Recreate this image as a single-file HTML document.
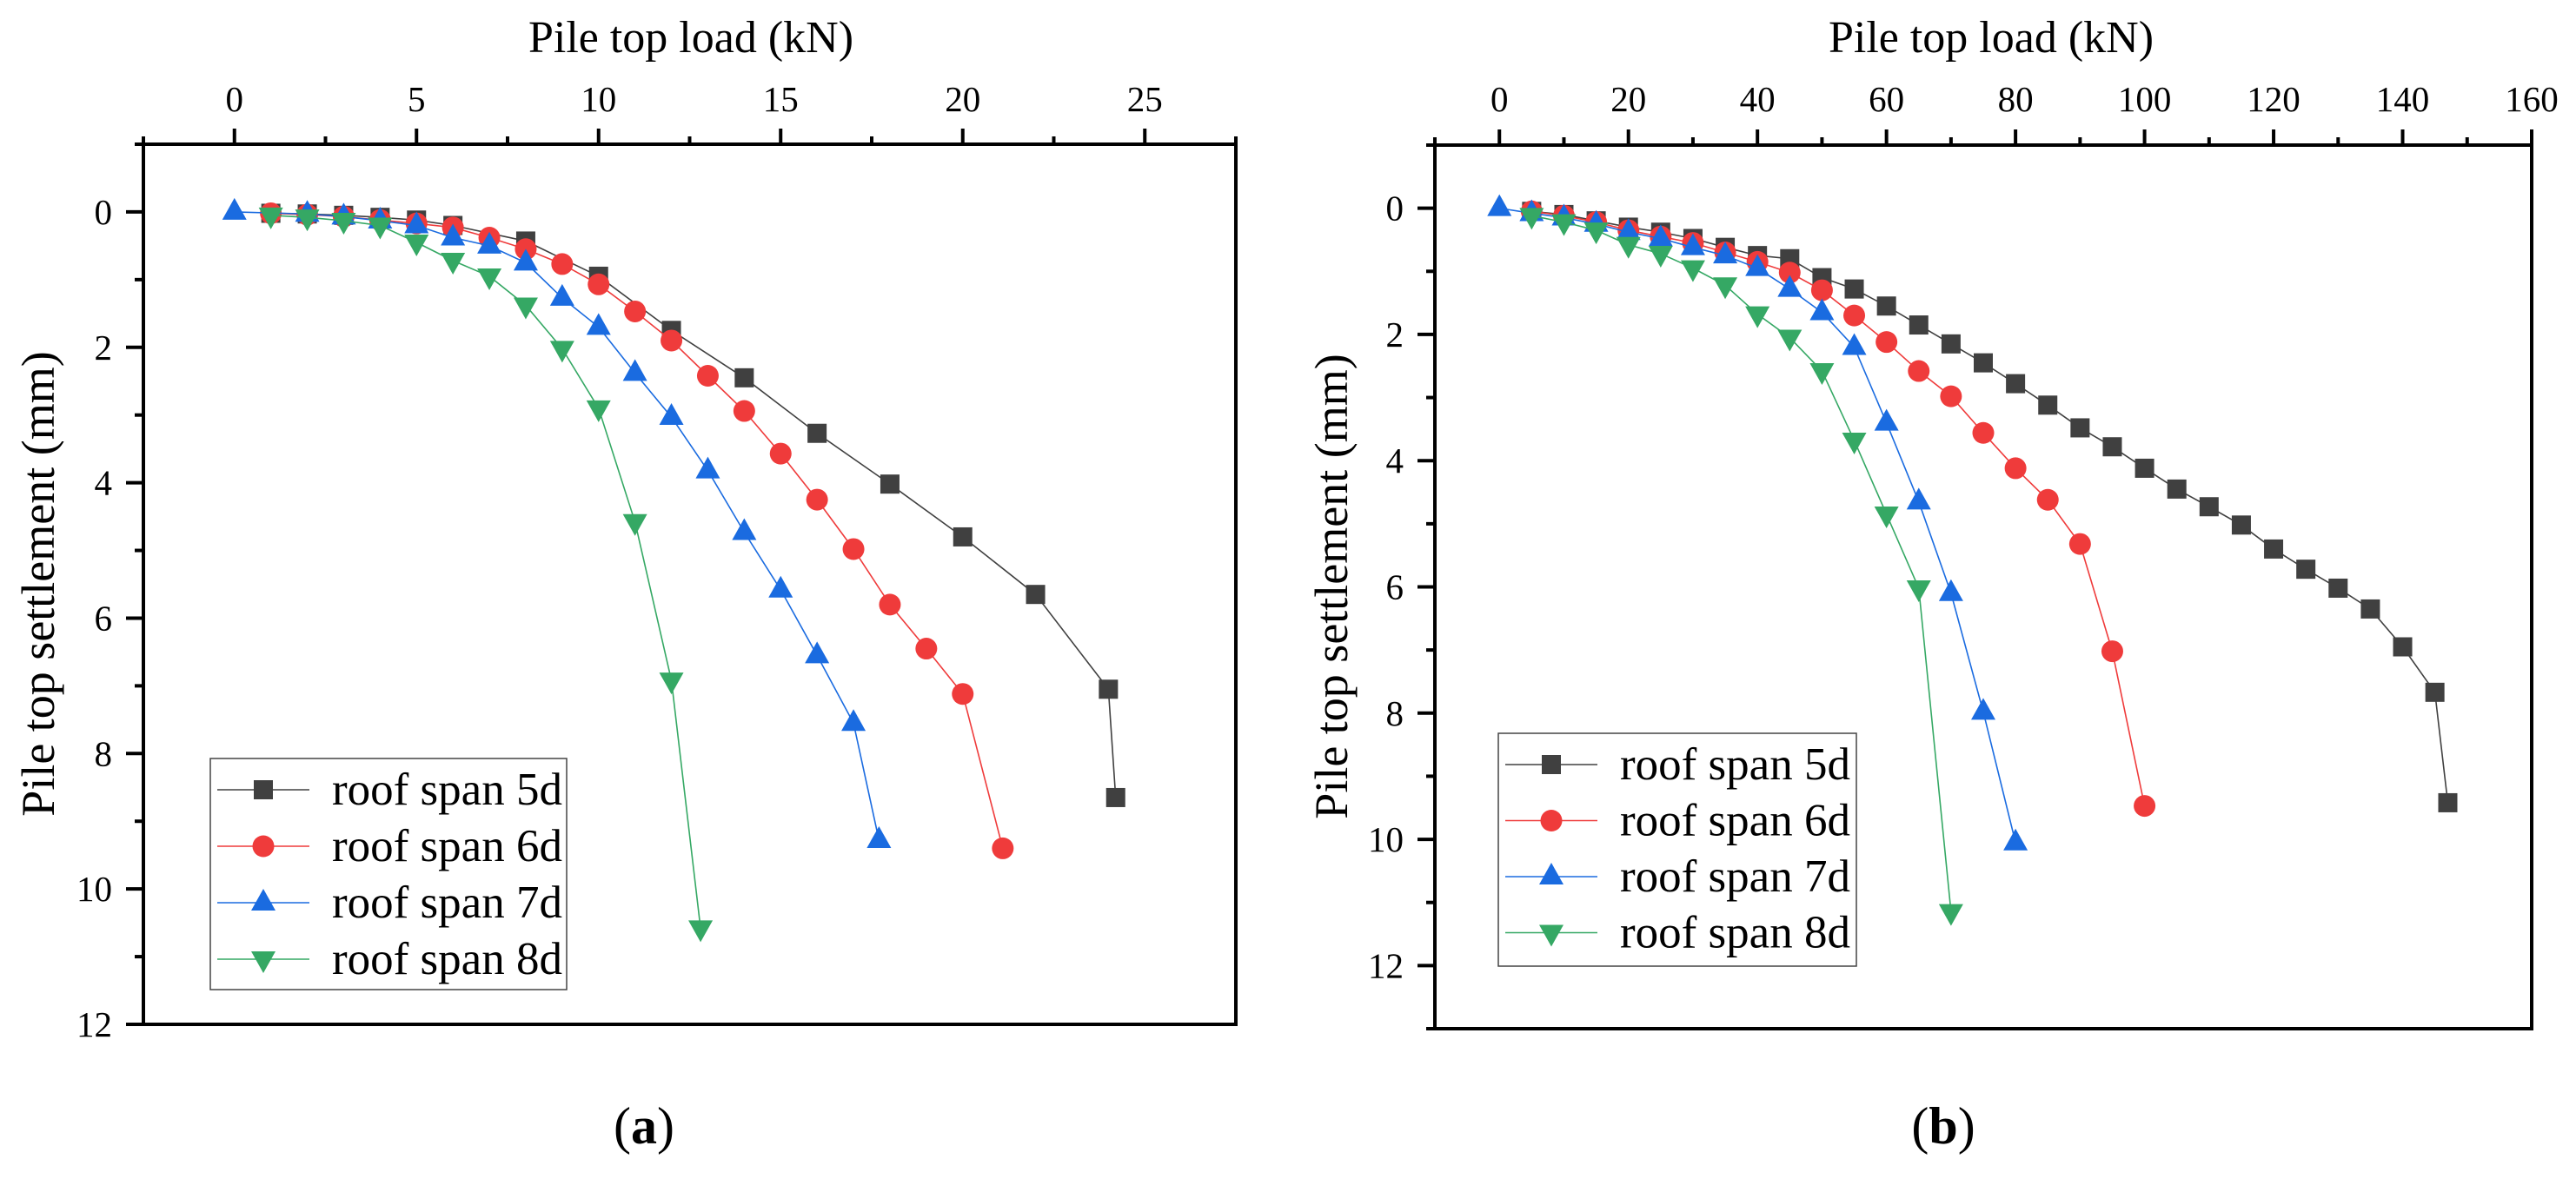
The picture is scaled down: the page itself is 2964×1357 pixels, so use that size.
<!DOCTYPE html>
<html><head><meta charset="utf-8"><style>
html,body{margin:0;padding:0;background:#fff;}
svg{display:block;}
svg text{font-family:"Liberation Serif","DejaVu Serif",serif;}
</style></head><body>
<svg id="chart" width="2964" height="1357" viewBox="0 0 2964 1357" xmlns="http://www.w3.org/2000/svg" font-family="Liberation Serif, DejaVu Serif, serif"></svg>
<script>
// ---- Panel (a) data ----
const seriesNames = ["roof span 5d","roof span 6d","roof span 7d","roof span 8d"];
const aLoad5 = [1,2,3,4,5,6,8,10,12,14,16,18,20,22,24,24.2];
const aSet5  = [0.02,0.03,0.05,0.08,0.12,0.2,0.43,0.95,1.75,2.45,3.27,4.02,4.8,5.65,7.05,8.65];
const aLoad6 = [1,2,3,4,5,6,7,8,9,10,11,12,13,14,15,16,17,18,19,20,21.1];
const aSet6  = [0.02,0.04,0.07,0.12,0.17,0.23,0.38,0.55,0.77,1.07,1.47,1.9,2.42,2.94,3.57,4.25,4.98,5.8,6.45,7.12,9.4];
const aLoad7 = [0,2,3,4,5,6,7,8,9,10,11,12,13,14,15,16,17,17.7];
const aSet7  = [0,0.03,0.07,0.13,0.2,0.38,0.5,0.75,1.27,1.7,2.38,3.03,3.82,4.73,5.58,6.55,7.55,9.28];
const aLoad8 = [1,2,3,4,5,6,7,8,9,10,11,12,12.8];
const aSet8  = [0.05,0.08,0.13,0.2,0.45,0.72,0.95,1.38,2.02,2.9,4.58,6.92,10.58];
const aXTicks = [0,5,10,15,20,25];
const aYTicks = [0,2,4,6,8,10,12];
// ---- Panel (b) data ----
const bLoad5 = [5,10,15,20,25,30,35,40,45,50,55,60,65,70,75,80,85,90,95,100,105,110,115,120,125,130,135,140,145,147];
const bSet5  = [0.05,0.1,0.2,0.3,0.38,0.48,0.62,0.75,0.8,1.1,1.28,1.55,1.85,2.15,2.45,2.78,3.12,3.48,3.78,4.12,4.45,4.73,5.02,5.4,5.72,6.02,6.35,6.95,7.67,9.42];
const bLoad6 = [5,10,15,20,25,30,35,40,45,50,55,60,65,70,75,80,85,90,95,100];
const bSet6  = [0.05,0.12,0.22,0.35,0.45,0.55,0.7,0.85,1.02,1.3,1.7,2.12,2.58,2.98,3.56,4.12,4.62,5.32,7.02,9.47];
const bLoad7 = [0,5,10,15,20,25,30,35,40,45,50,55,60,65,70,75,80];
const bSet7  = [0,0.08,0.15,0.25,0.38,0.48,0.62,0.75,0.95,1.28,1.65,2.2,3.4,4.65,6.1,7.98,10.05];
const bLoad8 = [5,10,15,20,25,30,35,40,45,50,55,60,65,70];
const bSet8  = [0.12,0.22,0.35,0.58,0.72,0.95,1.22,1.68,2.05,2.58,3.68,4.85,6.02,11.15];
const bXTicks = [0,20,40,60,80,100,120,140,160];
const bYTicks = [0,2,4,6,8,10,12];

const colors = ["#404040","#ef3b3b","#1a6be0","#35a864"];
const FONT = '"Liberation Serif", "DejaVu Serif", serif';
const svg = document.getElementById('chart');
const NS = "http://www.w3.org/2000/svg";
function mk(tag, attrs, parent){const e=document.createElementNS(NS,tag);for(const k in attrs)e.setAttribute(k,attrs[k]);if(tag==='text'){e.style.fontFamily=FONT;}(parent||svg).appendChild(e);return e;}

function marker(g, kind, cx, cy, color){
  let e;
  if(kind===0){e=mk('rect',{x:cx-11,y:cy-11,width:22,height:22,fill:color},g);}
  else if(kind===1){e=mk('circle',{cx:cx,cy:cy,r:12.5,fill:color},g);}
  else if(kind===2){e=mk('polygon',{points:`${cx},${cy-16} ${cx+14},${cy+9} ${cx-14},${cy+9}`,fill:color},g);}
  else {e=mk('polygon',{points:`${cx-14},${cy-9} ${cx+14},${cy-9} ${cx},${cy+16}`,fill:color},g);}
  return e;
}

function panel(p){
  const g = mk('g',{});
  
  
  const X = v => p.L + (v - p.xmin)/(p.xmax-p.xmin)*(p.R-p.L);
  const Y = v => p.T + (v - p.ymin)/(p.ymax-p.ymin)*(p.B-p.T);
  const fr = mk('rect',{x:p.L,y:p.T,width:p.R-p.L,height:p.B-p.T,fill:'none',stroke:'#000','stroke-width':4},g);
  
  
  for(let v=p.xmin; v<=p.xmax+1e-9; v+=p.xminor){
    const major = p.xticks.some(t=>Math.abs(t-v)<1e-6);
    const t = mk('line',{x1:X(v),x2:X(v),y1:p.T,y2:p.T-(major?18:9),stroke:'#000','stroke-width':4},g);
    
    
  }
  p.xticks.forEach(v=>{
    const t = mk('text',{x:X(v),y:128,'font-size':41,'text-anchor':'middle',fill:'#000'},g);
    t.textContent = v;
    
    
  });
  for(let v=p.ymin; v<=p.ymax+1e-9; v+=1){
    const major = p.yticks.some(t=>Math.abs(t-v)<1e-6);
    const t = mk('line',{x1:p.L,x2:p.L-(major?20:10),y1:Y(v),y2:Y(v),stroke:'#000','stroke-width':4},g);
    
    
  }
  p.yticks.forEach(v=>{
    const t = mk('text',{x:p.L-36,y:Y(v)+14,'font-size':41,'text-anchor':'end',fill:'#000'},g);
    t.textContent = v;
    
    
  });
  const xt = mk('text',{x:p.titleX,y:60,'font-size':52,'text-anchor':'middle',fill:'#000'},g);
  xt.textContent = 'Pile top load (kN)';
  
  
  const yt = mk('text',{x:0,y:0,'font-size':54,'text-anchor':'middle',fill:'#000',transform:`translate(${p.ytX},${p.ytY}) rotate(-90)`},g);
  yt.textContent = 'Pile top settlement (mm)';
  
  
  const cp = mk('text',{x:p.capX,y:1316,'font-size':60,'text-anchor':'middle',fill:'#000'},g);
  cp.innerHTML = '(<tspan font-weight="bold">'+p.id+'</tspan>)';
  
  
  p.series.forEach((s,i)=>{
    const sg = mk('g',{},g);
    
    
    const pts = s[0].map((x,j)=>X(x)+','+Y(s[1][j])).join(' ');
    const pl = mk('polyline',{points:pts,fill:'none',stroke:colors[i],'stroke-width':1.6},sg);
    
    
    s[0].forEach((x,j)=>{
      const m = marker(sg,i,X(x),Y(s[1][j]),colors[i]);
      
      
    });
  });
  const lg = mk('g',{},g);
  
  
  const lb = mk('rect',{x:p.lg.x,y:p.lg.y,width:p.lg.w,height:p.lg.h,fill:'#fff',stroke:'#444','stroke-width':1.5},lg);
  
  
  seriesNames.forEach((n,i)=>{
    const cy = p.lg.y0 + i*p.lg.dy;
    const eg = mk('g',{},lg);
    
    
    mk('line',{x1:p.lg.x+8,x2:p.lg.x+114,y1:cy,y2:cy,stroke:colors[i],'stroke-width':1.6},eg);
    marker(eg,i,p.lg.x+61,cy,colors[i]);
    const t = mk('text',{x:p.lg.x+140,y:cy+17,'font-size':53,fill:'#000'},eg);
    t.textContent = n;
  });
}

panel({id:'a',L:165,R:1422,T:166,B:1179,xmin:-2.5,xmax:27.5,ymin:-1,ymax:12,xminor:2.5,
  xticks:aXTicks,yticks:aYTicks,titleX:795,ytX:62,ytY:672,capX:741,
  series:[[aLoad5,aSet5],[aLoad6,aSet6],[aLoad7,aSet7],[aLoad8,aSet8]],
  lg:{x:242,y:873,w:410,h:266,y0:909,dy:65}});
panel({id:'b',L:1651,R:2913,T:167,B:1184,xmin:-10,xmax:160,ymin:-1,ymax:13,xminor:10,
  xticks:bXTicks,yticks:bYTicks,titleX:2291,ytX:1550,ytY:675,capX:2236,
  series:[[bLoad5,bSet5],[bLoad6,bSet6],[bLoad7,bSet7],[bLoad8,bSet8]],
  lg:{x:1724,y:844,w:412,h:268,y0:880,dy:64.5}});
</script>
</body></html>
